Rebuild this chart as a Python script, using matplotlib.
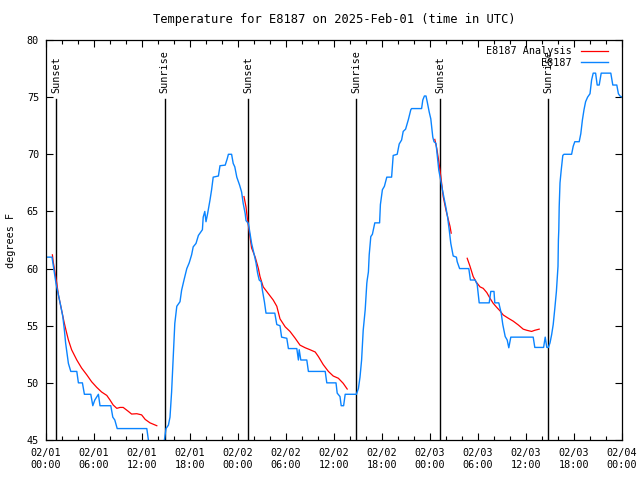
import numpy as np
import matplotlib
matplotlib.use("Agg")
import matplotlib.pyplot as plt

plt.rcParams['font.family'] = ['DejaVu Sans Mono']
plt.rcParams['font.size'] = 7.3

# observations (hours since 02/01 00:00 UTC, degrees F)
obs_hours = [0.0, 0.75, 0.9, 1.25, 1.55, 1.85, 2.1, 2.3, 2.45, 2.8, 3.1, 3.85, 4.05, 4.55, 4.8,
             5.6, 5.85, 6.1, 6.55, 6.75, 8.1, 8.35, 8.6, 8.9, 12.6, 12.8, 13.0, 14.6, 14.8, 15.0,
             15.3, 15.5, 15.7, 15.9, 16.1, 16.35, 16.75, 16.95, 17.25, 17.6, 17.9, 18.2, 18.4,
             18.75, 19.05, 19.55, 19.65, 19.85, 20.0, 20.2, 20.5, 20.7, 20.9, 21.55, 21.75, 22.4,
             22.65, 22.8, 23.2, 23.4, 23.6, 23.85, 24.2, 24.45, 24.65, 24.9, 25.0, 25.3, 25.5,
             25.7, 26.0, 26.25, 26.45, 26.65, 26.9, 27.05, 27.3, 27.5, 28.6, 28.85, 29.25, 29.45,
             30.1, 30.3, 31.35, 31.55, 31.65, 31.85, 32.6, 32.8, 34.9, 35.1, 36.25, 36.4, 36.75,
             36.9, 37.2, 37.4, 38.8, 39.05, 39.25, 39.45, 39.65, 39.9, 40.1, 40.15, 40.3, 40.4,
             40.6, 40.8, 41.1, 41.7, 41.8, 42.05, 42.3, 42.6, 43.2, 43.4, 43.9, 44.15, 44.45,
             44.65, 44.95, 45.3, 45.6, 45.7, 46.95, 47.1, 47.3, 47.5, 47.65, 47.9, 48.1, 48.35,
             48.5, 48.75, 48.95, 49.1, 49.35, 49.55, 49.8, 50.0, 50.2, 50.4, 50.6, 50.9, 51.3,
             51.4, 51.7, 52.85, 53.05, 53.65, 53.9, 54.15, 55.4, 55.6, 56.0, 56.1, 56.6, 56.9,
             57.1, 57.4, 57.65, 57.85, 58.1, 60.9, 61.1, 62.2, 62.4, 62.6, 62.8, 63.0, 63.2,
             63.4, 63.6, 63.8, 64.0, 64.05, 64.1, 64.15, 64.25, 64.4, 64.6, 64.75, 65.7, 65.9,
             66.1, 66.65, 66.85, 67.05, 67.25, 67.45, 67.7, 68.0, 68.2, 68.4, 68.7, 68.9, 69.15,
             69.4, 70.6, 70.85, 71.35, 71.55, 71.75, 72.0]
obs_temps = [61.0, 61.0, 60.3, 58.7, 57.7, 56.7, 55.8, 54.6, 53.5, 51.7, 51.0, 51.0, 50.0, 50.0, 49.0,
             49.0, 48.0, 48.5, 49.0, 48.0, 48.0, 47.0, 46.75, 46.0, 46.0, 45.0, 44.0, 44.0, 45.0, 46.0,
             46.3, 47.0, 49.2, 52.3, 55.2, 56.7, 57.1, 58.1, 59.0, 60.0, 60.5, 61.2, 61.9,
             62.2, 62.9, 63.4, 64.5, 65.0, 64.1, 64.8, 66.0, 66.9, 68.0, 68.1, 69.0, 69.05,
             69.6, 70.0, 70.0, 69.2, 68.9, 68.0, 67.3, 66.7, 65.7, 64.8, 64.2, 63.95, 63.1,
             62.2, 61.3, 60.5, 59.6, 59.0, 58.85, 58.1, 57.1, 56.1, 56.1, 55.1, 55.0, 54.0,
             53.9, 53.0, 53.0, 52.0, 52.9, 52.0, 52.0, 51.0, 51.0, 50.0, 50.0, 49.1, 48.8,
             48.0, 48.0, 49.0, 49.0, 49.5, 50.5, 52.0, 54.6, 56.4, 58.7, 59.0, 59.7, 61.2,
             62.8, 63.0, 64.0, 64.0, 65.6, 66.9, 67.2, 68.0, 68.0, 69.9, 70.0, 70.9, 71.25,
             72.0, 72.2, 73.05, 73.9, 74.0, 74.0, 74.75, 75.1, 75.1, 74.6, 73.7, 73.1, 71.5,
             71.1, 70.95, 69.6, 68.6, 67.7, 66.9, 66.0, 65.3, 64.5, 63.4, 62.2, 61.1, 61.0,
             60.6, 60.0, 60.0, 59.0, 59.0, 58.6, 57.0, 57.0, 58.0, 58.0, 57.0, 57.0, 56.1,
             55.1, 54.05, 53.75, 53.07, 54.0, 54.0, 53.1, 53.1, 54.0, 53.1, 53.1, 53.5, 54.2,
             55.1, 56.5, 58.0, 60.2, 62.5, 63.4, 65.4, 67.5, 68.6, 69.9, 70.0, 70.0, 70.7,
             71.1, 71.1, 71.8, 73.0, 73.9, 74.6, 75.0, 75.3, 76.5, 77.1, 77.1, 76.06, 76.06,
             77.1, 77.1, 76.06, 76.06, 75.3, 75.1, 75.0]

# analysis (nan separates the runs)
ana_hours = [0.8, 0.9, 1.35, 1.55, 1.85, 2.25, 2.5, 2.8, 3.2, 3.85, 4.45, 5.1, 5.7, 6.35, 6.95,
             7.6, 8.0, 8.4, 8.85, 9.25, 9.65, 10.3, 10.7, 11.35, 11.95, 12.4, 13.0, 13.85, np.nan,
             24.75, 25.0, 25.15, 25.7, 26.15, 26.55, 26.75, 27.15, 27.8, 28.4, 28.85, 29.25, 29.9,
             30.5, 31.15, 31.75, 32.4, 33.0, 33.65, 34.05, 34.65, 35.3, 35.9, 36.55, 37.15, 37.65,
             np.nan,
             48.6, 48.85, 49.05, 49.25, 49.45, 49.65, 50.0, 50.3, 50.5, 50.65, np.nan,
             52.65, 53.0, 53.4, 53.75, 54.25, 54.65, 55.1, 55.5, 55.9, 56.35, 56.75, 57.15, 57.8,
             58.4, 59.05, 59.65, 60.1, 60.7, 61.1, 61.65]
ana_temps = [61.2, 60.6, 58.7, 57.7, 56.7, 55.35, 54.6, 53.75, 52.9, 52.0, 51.3, 50.7, 50.1, 49.6, 49.2,
             48.9, 48.5, 48.06, 47.77, 47.85, 47.85, 47.5, 47.27, 47.3, 47.2, 46.8, 46.5, 46.25, np.nan,
             66.3, 65.4, 64.5, 61.8, 61.0, 60.0, 59.3, 58.4, 57.8, 57.25, 56.7, 55.6, 54.9,
             54.5, 53.9, 53.3, 53.07, 52.9, 52.7, 52.3, 51.6, 51.0, 50.6, 50.4, 49.96, 49.46,
             np.nan,
             71.3, 70.5, 69.6, 68.6, 67.5, 66.3, 65.1, 64.25, 63.7, 63.1, np.nan,
             60.9, 60.2, 59.3, 58.85, 58.4, 58.27, 57.9, 57.4, 56.96, 56.6, 56.3, 55.94, 55.65,
             55.4, 55.06, 54.7, 54.6, 54.5, 54.6, 54.7]

sun_hours = [1.25, 14.85, 25.25, 38.75, 49.25, 62.8]
sun_labels = ['Sunset', 'Sunrise', 'Sunset', 'Sunrise', 'Sunset', 'Sunrise']

tick_hours = [0, 6, 12, 18, 24, 30, 36, 42, 48, 54, 60, 66, 72]
tick_labels = ['02/01\n00:00', '02/01\n06:00', '02/01\n12:00', '02/01\n18:00',
               '02/02\n00:00', '02/02\n06:00', '02/02\n12:00', '02/02\n18:00',
               '02/03\n00:00', '02/03\n06:00', '02/03\n12:00', '02/03\n18:00',
               '02/04\n00:00']

fig = plt.figure(figsize=(6.4, 4.8), dpi=100)
ax = fig.add_axes([46 / 640, 40 / 480, 576 / 640, 400 / 480])

for h, lab in zip(sun_hours, sun_labels):
    ax.plot([h, h], [45, 74.8], color='black', lw=1)
    ax.text(h, 75.4, lab, rotation=90, ha='center', va='bottom')

ax.plot(ana_hours, ana_temps, color='red', lw=0.9, label='E8187 Analysis')
ax.plot(obs_hours, obs_temps, color='#0a84ff', lw=1.0, label='E8187')

ax.set_xlim(0, 72)
ax.set_ylim(45, 80)
ax.set_xticks(tick_hours)
ax.set_xticklabels(tick_labels)
ax.set_xticks(np.arange(0, 73, 2), minor=True)
ax.set_yticks(np.arange(45, 81, 5))
ax.tick_params(which='both', direction='in', top=True, right=True, width=0.8)
ax.tick_params(which='major', length=5)
ax.tick_params(which='minor', length=3)
ax.tick_params(axis='x', pad=6)
ax.tick_params(axis='y', pad=5)
for s in ax.spines.values():
    s.set_linewidth(0.9)

ax.set_ylabel('degrees F', labelpad=8)
ax.set_title('Temperature for E8187 on 2025-Feb-01 (time in UTC)', pad=12)
ax.legend(loc='upper right', bbox_to_anchor=(1 - 9 / 576, 1 - 1 / 400), frameon=False,
          markerfirst=False, handlelength=2.7, handletextpad=0.9, labelspacing=0.15,
          borderaxespad=0.2, borderpad=0.3)

fig.savefig('out.png', dpi=100)
